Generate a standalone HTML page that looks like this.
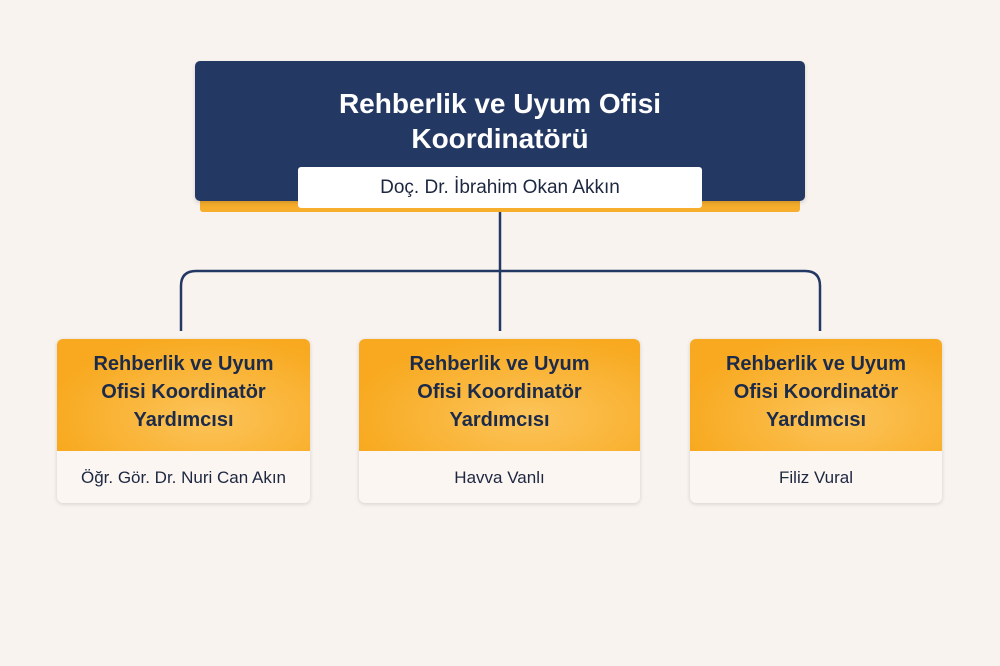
<!DOCTYPE html>
<html><head><meta charset="utf-8"><style>
body{margin:0;width:1000px;height:666px;background:#f9f3ef;font-family:"Liberation Sans",sans-serif;position:relative;overflow:hidden}
.top{position:absolute;left:195px;top:61px;width:610px;height:140px;background:#233863;border-radius:5px;box-shadow:0 2px 4px rgba(0,0,0,.15)}
.strip{position:absolute;left:200px;top:195px;width:600px;height:17px;background:#f7ae2c;border-radius:3px}
.ttl{position:absolute;left:195px;top:86px;width:610px;text-align:center;color:#fff;font-size:28px;font-weight:bold;line-height:35px}
.nm{position:absolute;left:298px;top:167px;width:404px;height:41px;background:#fff;border-radius:3px;text-align:center;line-height:41px;font-size:19px;color:#1d2740}
.c{position:absolute;top:339px;height:164px;background:#fbf6f2;border-radius:6px;box-shadow:0 1px 4px rgba(0,0,0,.15);overflow:hidden}
.c .h{height:112px;background:radial-gradient(ellipse at 60% 70%,#fcc45a,#f8a91f 75%);text-align:center;color:#1c2b4a;font-weight:bold;font-size:20px;line-height:28px;padding-top:11px;box-sizing:border-box}
.c .n{text-align:center;line-height:54px;font-size:17px;color:#1d2740}
</style></head><body>
<svg style="position:absolute;left:0;top:0" width="1000" height="666"><path d="M500 212V331M181 331V286Q181 271 196 271H805Q820 271 820 286V331" fill="none" stroke="#233863" stroke-width="2.5"/></svg>
<div class="strip"></div>
<div class="top"></div>
<div class="ttl">Rehberlik ve Uyum Ofisi<br>Koordinatörü</div>
<div class="nm">Doç. Dr. İbrahim Okan Akkın</div>
<div class="c" style="left:57px;width:253px"><div class="h">Rehberlik ve Uyum<br>Ofisi Koordinatör<br>Yardımcısı</div><div class="n">Öğr. Gör. Dr. Nuri Can Akın</div></div>
<div class="c" style="left:359px;width:281px"><div class="h">Rehberlik ve Uyum<br>Ofisi Koordinatör<br>Yardımcısı</div><div class="n">Havva Vanlı</div></div>
<div class="c" style="left:690px;width:252px"><div class="h">Rehberlik ve Uyum<br>Ofisi Koordinatör<br>Yardımcısı</div><div class="n">Filiz Vural</div></div>
</body></html>
